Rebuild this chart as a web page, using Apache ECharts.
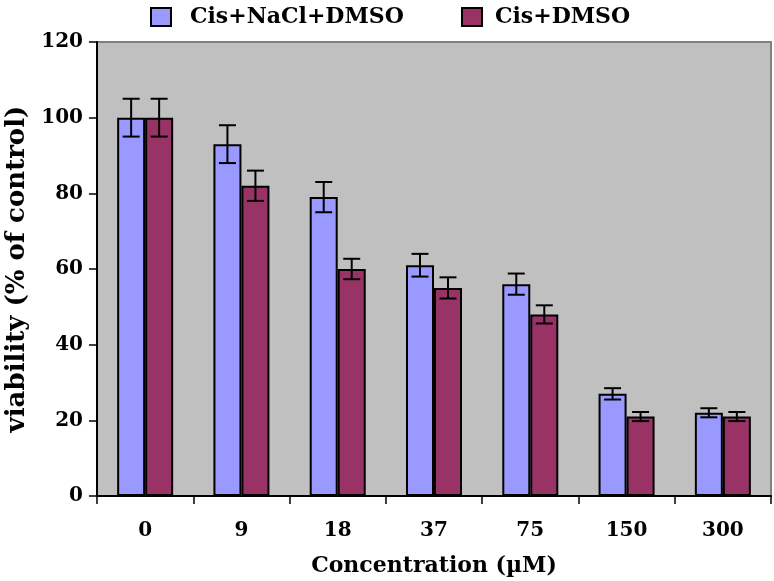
<!DOCTYPE html>
<html>
<head>
<meta charset="utf-8">
<script src="https://cdn.jsdelivr.net/npm/echarts@6/dist/echarts.min.js"></script>
<style>
html,body{margin:0;padding:0;background:#fff;}
#chart{width:774px;height:581px;}
</style>
</head>
<body>
<div id="chart"></div>
<script>
var categories = ['0', '9', '18', '37', '75', '150', '300'];
var seriesNames = ['Cis+NaCl+DMSO', 'Cis+DMSO'];
var nacl = [100, 93, 79, 61, 56, 27, 22];
var naclErr = [5, 5, 4, 3, 2.8, 1.5, 1.2];
var dmso = [100, 82, 60, 55, 48, 21, 21];
var dmsoErr = [5, 4, 2.7, 2.8, 2.4, 1.2, 1.2];
var yTicks = {min: 0, max: 120, interval: 20};

var FONT = 'DejaVu Serif';
var BAR_W = 28;

function errSeries(vals, errs, offset) {
  return {
    type: 'custom',
    silent: true,
    z: 10,
    encode: {x: 0, y: 1},
    data: vals.map(function (v, i) { return [i, v, errs[i]]; }),
    renderItem: function (params, api) {
      var i = api.value(0), v = api.value(1), e = api.value(2);
      var top = api.coord([i, v + e]);
      var bot = api.coord([i, v - e]);
      var x = top[0] + offset;
      var hw = 8.5;
      var st = {stroke: '#000', lineWidth: 2};
      return {
        type: 'group',
        children: [
          {type: 'line', shape: {x1: x, y1: top[1], x2: x, y2: bot[1]}, style: st},
          {type: 'line', shape: {x1: x - hw, y1: top[1], x2: x + hw, y2: top[1]}, style: st},
          {type: 'line', shape: {x1: x - hw, y1: bot[1], x2: x + hw, y2: bot[1]}, style: st}
        ]
      };
    }
  };
}

var chart = echarts.init(document.getElementById('chart'), null, {renderer: 'canvas'});
var legendText = {fontFamily: FONT, fontWeight: 'bold', fontSize: 22, color: '#000'};
chart.setOption({
  animation: false,
  backgroundColor: '#fff',
  legend: [
    {data: [seriesNames[0]], left: 145, top: 1, itemWidth: 20, itemHeight: 18, icon: 'rect',
     textStyle: Object.assign({padding: [0, 0, 0, 14]}, legendText)},
    {data: [seriesNames[1]], left: 456, top: 1, itemWidth: 20, itemHeight: 18, icon: 'rect',
     textStyle: Object.assign({padding: [0, 0, 0, 8]}, legendText)}
  ],
  grid: {left: 97, right: 3, top: 42, bottom: 85, show: true, backgroundColor: '#c0c0c0',
         borderColor: '#808080', borderWidth: 2, containLabel: false, outerBoundsMode: 'none'},
  xAxis: {
    type: 'category',
    data: categories,
    name: 'Concentration (\u00b5M)',
    nameLocation: 'middle',
    nameGap: 59,
    nameTextStyle: {fontFamily: FONT, fontWeight: 'bold', fontSize: 22, color: '#000'},
    axisLine: {lineStyle: {color: '#000', width: 2}},
    axisTick: {show: true, length: 8, lineStyle: {color: '#000', width: 1.5}},
    axisLabel: {fontFamily: FONT, fontWeight: 'bold', fontSize: 20, color: '#000', margin: 25},
    splitLine: {show: false}
  },
  yAxis: {
    type: 'value',
    min: yTicks.min, max: yTicks.max, interval: yTicks.interval,
    name: 'viability (% of control)',
    nameLocation: 'middle',
    nameGap: 57,
    nameRotate: 90,
    nameTextStyle: {fontFamily: FONT, fontWeight: 'bold', fontSize: 26, color: '#000'},
    axisLine: {show: true, lineStyle: {color: '#000', width: 2}},
    axisTick: {show: true, length: 8, lineStyle: {color: '#000', width: 1.5}},
    axisLabel: {fontFamily: FONT, fontWeight: 'bold', fontSize: 20, color: '#000', margin: 14},
    splitLine: {show: false}
  },
  series: [
    {name: seriesNames[0], type: 'bar', data: nacl, barWidth: BAR_W, barGap: '0%',
     itemStyle: {color: '#9999ff', borderColor: '#000', borderWidth: 2}},
    {name: seriesNames[1], type: 'bar', data: dmso, barWidth: BAR_W, barGap: '0%',
     itemStyle: {color: '#993366', borderColor: '#000', borderWidth: 2}},
    errSeries(nacl, naclErr, -BAR_W / 2),
    errSeries(dmso, dmsoErr, BAR_W / 2)
  ]
});
</script>
</body>
</html>
